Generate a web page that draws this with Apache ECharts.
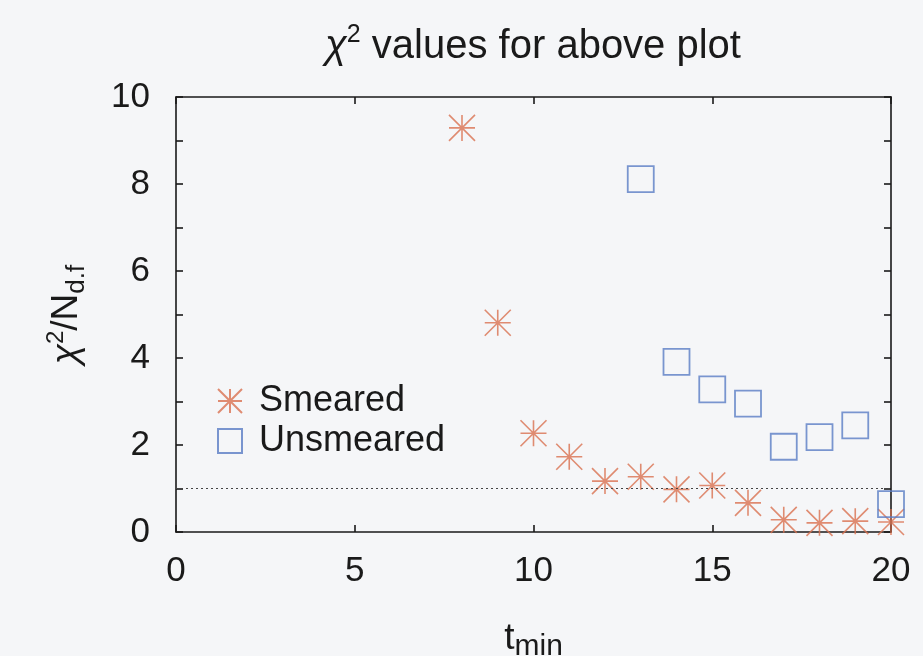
<!DOCTYPE html>
<html>
<head>
<meta charset="utf-8">
<script src="https://cdn.jsdelivr.net/npm/echarts@6/dist/echarts.min.js"></script>
<style>
  html, body { margin: 0; padding: 0; background: #f5f6f8; }
  #chart { width: 923px; height: 656px; }
</style>
</head>
<body>
<div id="chart"></div>
<script>
// Fit quality per starting time slice
const smearedT = [8, 9, 10, 11, 12, 13, 14, 15, 16, 17, 18, 19, 20];
const smearedChi2 = [9.29, 4.81, 2.27, 1.73, 1.17, 1.27, 0.98, 1.07, 0.67, 0.28, 0.21, 0.25, 0.23];
const unsmearedT = [13, 14, 15, 16, 17, 18, 19, 20];
const unsmearedChi2 = [8.11, 3.91, 3.28, 2.95, 1.96, 2.18, 2.45, 0.64];
const referenceLevel = 1;
const xTicks = [0, 5, 10, 15, 20];
const yTicks = [0, 2, 4, 6, 8, 10];

const FONT = "'Liberation Sans', Arial, Helvetica, sans-serif";
const INK = '#1a1a1a';
const ORANGE = '#d9704f';
const BLUE = '#5a7dc4';
const ASTERISK = 'path://M0,-10L0,10M-10,0L10,0M-10,-10L10,10M-10,10L10,-10';

const toPairs = (xs, ys) => xs.map((x, i) => [x, ys[i]]);

const chart = echarts.init(document.getElementById('chart'));

const axisCommon = {
  axisLine: { show: true, onZero: false, lineStyle: { color: INK, width: 1.6 } },
  axisTick: { show: true, inside: true, length: 7, lineStyle: { color: INK, width: 1.6 } },
  splitLine: { show: false }
};

chart.setOption({
  backgroundColor: '#f5f6f8',
  animation: false,
  title: {
    text: '{g|χ}{sup|2}{t| values for above plot}',
    left: 320,
    top: 18,
    textStyle: {
      fontWeight: 'normal',
      rich: {
        g: { fontFamily: FONT, fontSize: 40, color: INK, lineHeight: 48, fontStyle: 'italic', fontWeight: 'normal' },
        sup: { fontFamily: FONT, fontSize: 25, color: INK, lineHeight: 26, verticalAlign: 'top', fontWeight: 'normal' },
        t: { fontFamily: FONT, fontSize: 40, color: INK, lineHeight: 48, fontWeight: 'normal' }
      }
    }
  },
  legend: {
    orient: 'vertical',
    left: 212,
    top: 377,
    itemWidth: 24,
    itemHeight: 24,
    itemGap: 2,
    selectedMode: false,
    textStyle: { fontFamily: FONT, fontSize: 36, color: INK, lineHeight: 38, padding: [0, 0, 0, 12] },
    data: ['Smeared', 'Unsmeared']
  },
  grid: { left: 176, right: 32, top: 97, bottom: 124, containLabel: false, outerBoundsMode: 'none' },
  xAxis: [
    Object.assign({}, axisCommon, {
      type: 'value', position: 'bottom', min: 0, max: 20, interval: 5,
      axisLabel: { fontFamily: FONT, fontSize: 35, color: INK, margin: 22,
        formatter: v => (xTicks.includes(v) ? String(v) : '') },
      name: '{t|t}{sub|min}',
      nameLocation: 'middle',
      nameGap: 84,
      nameTextStyle: {
        rich: {
          t: { fontFamily: FONT, fontSize: 37, color: INK, lineHeight: 46 },
          sub: { fontFamily: FONT, fontSize: 30, color: INK, lineHeight: 30, verticalAlign: 'bottom' }
        }
      }
    }),
    Object.assign({}, axisCommon, {
      type: 'value', position: 'top', min: 0, max: 20, interval: 5,
      axisLabel: { show: false }
    })
  ],
  yAxis: [
    Object.assign({}, axisCommon, {
      type: 'value', position: 'left', min: 0, max: 10, interval: 1,
      axisLabel: { fontFamily: FONT, fontSize: 35, color: INK, margin: 26,
        formatter: v => (yTicks.includes(v) ? String(v) : '') },
      name: '{g|χ}{sup|2}{t|/N}{sub|d.f}',
      nameLocation: 'middle',
      nameRotate: 90,
      nameGap: 86,
      nameTextStyle: {
        rich: {
          g: { fontFamily: FONT, fontSize: 37, color: INK, lineHeight: 46, fontStyle: 'italic' },
          sup: { fontFamily: FONT, fontSize: 24, color: INK, lineHeight: 24, verticalAlign: 'top' },
          t: { fontFamily: FONT, fontSize: 37, color: INK, lineHeight: 46 },
          sub: { fontFamily: FONT, fontSize: 26, color: INK, lineHeight: 26, verticalAlign: 'bottom' }
        }
      }
    }),
    Object.assign({}, axisCommon, {
      type: 'value', position: 'right', min: 0, max: 10, interval: 1,
      axisLabel: { show: false }
    })
  ],
  series: [
    {
      name: 'Smeared',
      type: 'scatter',
      clip: false,
      symbol: ASTERISK,
      symbolSize: 26,
      itemStyle: { color: 'rgba(0,0,0,0)', borderColor: ORANGE, borderWidth: 1.6 },
      data: toPairs(smearedT, smearedChi2),
      markLine: {
        silent: true,
        symbol: 'none',
        label: { show: false },
        lineStyle: { color: '#444', width: 1, type: [2, 3] },
        data: [{ yAxis: referenceLevel }]
      },
      z: 3
    },
    {
      name: 'Unsmeared',
      type: 'scatter',
      clip: false,
      symbol: 'rect',
      symbolSize: 26,
      itemStyle: { color: 'rgba(0,0,0,0)', borderColor: BLUE, borderWidth: 1.8 },
      data: toPairs(unsmearedT, unsmearedChi2),
      z: 3
    }
  ]
});
</script>
</body>
</html>
